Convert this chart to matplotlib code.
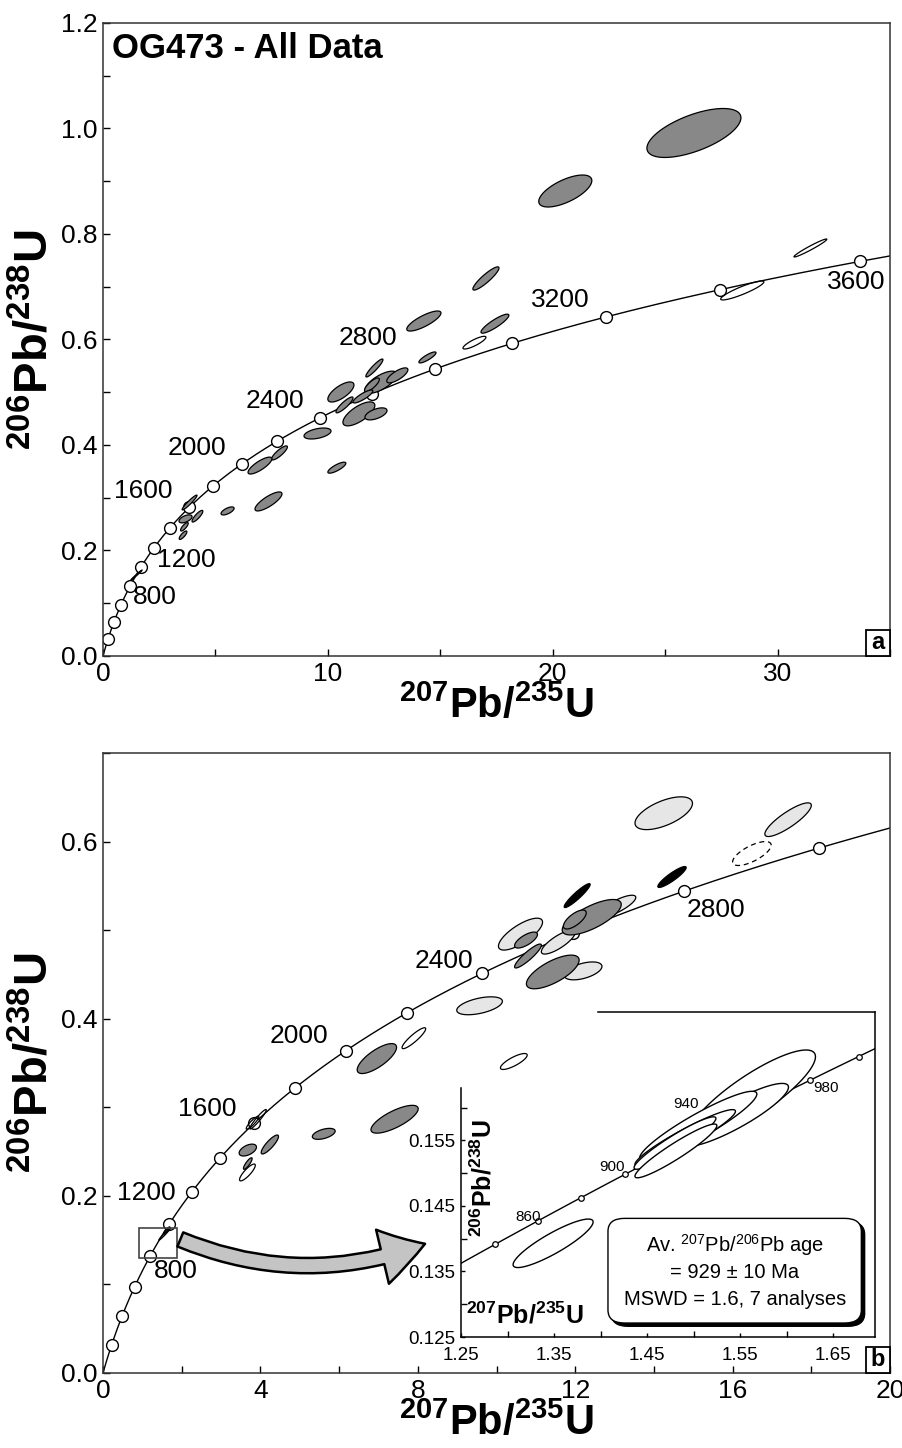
import numpy as np
import matplotlib
matplotlib.use("Agg")
import matplotlib.pyplot as plt
from matplotlib.patches import Polygon, Rectangle, FancyBboxPatch, FancyArrowPatch
from matplotlib.ticker import MultipleLocator, FormatStrFormatter

plt.rcParams['font.family'] = ['Liberation Sans', 'DejaVu Sans']
plt.rcParams['mathtext.fontset'] = 'custom'
plt.rcParams['mathtext.rm'] = 'Liberation Sans'
plt.rcParams['mathtext.it'] = 'Liberation Sans:italic'
plt.rcParams['mathtext.bf'] = 'Liberation Sans:bold'

# decay constants (per Ma)
L238 = 1.55125e-4
L235 = 9.8485e-4

# ---- data: ellipses as (207Pb/235U, 206Pb/238U, half-width x, half-height y, rho)
top_gray = [
    (26.28, 0.9915, 2.09, 0.0464, 0.62),
    (20.56, 0.8815, 1.18, 0.0303, 0.65),
    (17.03, 0.7157, 0.58, 0.0220, 0.90),
    (14.27, 0.6350, 0.76, 0.0190, 0.80),
    (17.43, 0.6300, 0.62, 0.0180, 0.88),
    (14.43, 0.5660, 0.38, 0.0104, 0.85),
    (12.07, 0.5460, 0.38, 0.0170, 0.92),
    (12.36, 0.5190, 0.71, 0.0210, 0.70),
    (11.96, 0.5140, 0.33, 0.0130, 0.80),
    (13.09, 0.5320, 0.47, 0.0142, 0.75),
    (10.58, 0.5005, 0.58, 0.0190, 0.70),
    (10.74, 0.4760, 0.38, 0.0150, 0.88),
    (11.56, 0.4920, 0.44, 0.0123, 0.85),
    (11.38, 0.4590, 0.71, 0.0227, 0.70),
    (12.14, 0.4590, 0.49, 0.0114, 0.55),
    (9.54, 0.4218, 0.60, 0.0104, 0.45),
    (7.85, 0.3850, 0.35, 0.0133, 0.85),
    (10.40, 0.3570, 0.40, 0.0104, 0.80),
    (6.98, 0.3610, 0.53, 0.0160, 0.80),
    (7.36, 0.2930, 0.60, 0.0180, 0.80),
    (5.54, 0.2750, 0.29, 0.0076, 0.65),
    (3.85, 0.2910, 0.33, 0.0140, 0.95),
    (3.67, 0.2600, 0.29, 0.0076, 0.55),
    (4.20, 0.2650, 0.24, 0.0110, 0.85),
    (3.62, 0.2450, 0.17, 0.0080, 0.80),
    (3.56, 0.2290, 0.17, 0.0080, 0.80),
    (1.49, 0.1535, 0.25, 0.0095, 0.99),
]
top_open = [
    (31.46, 0.7735, 0.73, 0.0170, 0.97),
    (28.43, 0.6930, 0.96, 0.0180, 0.90),
    (16.52, 0.5940, 0.51, 0.0120, 0.85),
]

bot_light = [
    (14.25, 0.6320, 0.73, 0.0185, 0.60),
    (17.41, 0.6247, 0.59, 0.0190, 0.85),
    (13.06, 0.5270, 0.48, 0.0124, 0.80),
    (10.61, 0.4955, 0.56, 0.0180, 0.75),
    (11.57, 0.4865, 0.43, 0.0135, 0.80),
    (12.20, 0.4540, 0.48, 0.0101, 0.50),
    (9.57, 0.4146, 0.58, 0.0101, 0.50),
]
bot_dark = [
    (12.42, 0.5146, 0.75, 0.0200, 0.72),
    (11.99, 0.5120, 0.29, 0.0107, 0.70),
    (10.75, 0.4888, 0.29, 0.0090, 0.70),
    (10.80, 0.4708, 0.34, 0.0135, 0.90),
    (11.43, 0.4528, 0.67, 0.0190, 0.70),
    (6.96, 0.3550, 0.50, 0.0169, 0.75),
    (7.41, 0.2865, 0.60, 0.0157, 0.75),
    (5.61, 0.2700, 0.29, 0.0062, 0.50),
    (4.24, 0.2580, 0.22, 0.0107, 0.85),
    (3.68, 0.2517, 0.22, 0.0067, 0.50),
    (3.68, 0.2365, 0.11, 0.0065, 0.85),
    (1.57, 0.1570, 0.15, 0.0070, 0.98),
]
bot_black = [
    (14.46, 0.5600, 0.36, 0.0118, 0.90),
    (12.05, 0.5390, 0.33, 0.0135, 0.93),
]
bot_open = [
    (7.90, 0.3780, 0.30, 0.0118, 0.90),
    (10.44, 0.3517, 0.34, 0.0090, 0.80),
    (3.94, 0.2865, 0.21, 0.0110, 0.95),
    (3.80, 0.2826, 0.16, 0.0073, 0.90),
    (3.67, 0.2264, 0.20, 0.0095, 0.85),
    (1.62, 0.1610, 0.08, 0.0040, 0.90),
]
bot_dashed = [
    (16.49, 0.5865, 0.49, 0.0135, 0.70),
]

inset_ell = [
    (1.349, 0.1393, 0.043, 0.0037, 0.88),
    (1.563, 0.1619, 0.068, 0.0069, 0.85),
    (1.545, 0.1589, 0.057, 0.0048, 0.88),
    (1.505, 0.1572, 0.063, 0.0053, 0.92),
    (1.491, 0.1554, 0.054, 0.0043, 0.94),
    (1.480, 0.1546, 0.044, 0.0040, 0.94),
    (1.481, 0.1534, 0.044, 0.0041, 0.94),
]

top_ages = [800, 1200, 1600, 2000, 2400, 2800, 3200, 3600]
top_age_pos = [(2.31, 0.112), (3.69, 0.182), (1.78, 0.313), (4.17, 0.394),
               (7.65, 0.484), (11.78, 0.602), (20.34, 0.674), (33.48, 0.709)]
bot_ages = [800, 1200, 1600, 2000, 2400, 2800]
bot_age_pos = [(1.84, 0.1157), (1.11, 0.2028), (2.65, 0.298), (4.99, 0.381),
               (8.66, 0.4646), (15.57, 0.5225)]
inset_ages = [860, 900, 940, 980]
inset_age_pos = [(1.322, 0.1433), (1.412, 0.1510), (1.492, 0.1605), (1.642, 0.1630)]

marker_ages = np.arange(200, 3601, 200)
inset_marker_ages = np.arange(840, 1001, 20)


def conc(t):
    return np.exp(L235 * t) - 1, np.exp(L238 * t) - 1


def ell_xy(e, n=160):
    x, y, dx, dy, rho = e
    t = np.linspace(0, 2 * np.pi, n)
    ex = x + dx * np.cos(t)
    ey = y + dy * (rho * np.cos(t) + np.sqrt(1 - rho ** 2) * np.sin(t))
    return np.column_stack([ex, ey])


def add_ell(ax, e, fc, ls='-', z=3, lw=0.9):
    ax.add_patch(Polygon(ell_xy(e), closed=True, fc=fc, ec='black', lw=lw, ls=ls, zorder=z))


def draw_concordia(ax, tmax, ages, ms):
    t = np.linspace(0, tmax, 800)
    cx, cy = conc(t)
    ax.plot(cx, cy, color='black', lw=1, zorder=2)
    mx, my = conc(np.asarray(ages, dtype=float))
    ax.plot(mx, my, 'o', ms=ms, mfc='white', mec='black', mew=1, zorder=2.5)


def style_axes(ax):
    ax.tick_params(which='both', direction='in', length=5, width=1,
                   top=False, right=False, labelsize=19, pad=4)
    for s in ax.spines.values():
        s.set_linewidth(1.1)
        s.set_color('#333333')


def corner_label(ax, txt, w, h):
    ax.add_patch(Rectangle((1 - w, 0), w, h, transform=ax.transAxes, fc='white',
                           ec='black', lw=1.3, zorder=6, clip_on=False))
    ax.text(1 - w / 2, h / 2, txt, transform=ax.transAxes, ha='center', va='center',
            fontsize=17, fontweight='bold', zorder=7)


W, H = 902, 1448
fig = plt.figure(figsize=(W / 100, H / 100), dpi=100)

xlab = r'$\mathbf{{}^{207}Pb/{}^{235}U}$'
ylab = r'$\mathbf{{}^{206}Pb/{}^{238}U}$'

# ---------------- panel a ----------------
ax1 = fig.add_axes([103 / W, 1 - 656 / H, 787 / W, 633 / H])
draw_concordia(ax1, 3700, marker_ages, 8.5)
for e in top_gray:
    add_ell(ax1, e, '#888888')
for e in top_open:
    add_ell(ax1, e, 'none')
for a, (px, py) in zip(top_ages, top_age_pos):
    ax1.text(px, py, str(a), fontsize=19, ha='center', va='center', zorder=5)
ax1.set_xlim(0, 35)
ax1.set_ylim(0, 1.2)
ax1.xaxis.set_major_locator(MultipleLocator(10))
ax1.xaxis.set_minor_locator(MultipleLocator(5))
ax1.yaxis.set_major_locator(MultipleLocator(0.2))
ax1.yaxis.set_minor_locator(MultipleLocator(0.1))
ax1.yaxis.set_major_formatter(FormatStrFormatter('%.1f'))
style_axes(ax1)
ax1.set_xlabel(xlab, fontsize=30, labelpad=0)
ax1.set_ylabel(ylab, fontsize=34, labelpad=2)
ax1.text(0.012, 0.985, 'OG473 - All Data', transform=ax1.transAxes, fontsize=25,
         fontweight='bold', ha='left', va='top')
corner_label(ax1, 'a', 24 / 787, 26 / 633)

# ---------------- panel b ----------------
ax2 = fig.add_axes([103 / W, 1 - 1373 / H, 787 / W, 620 / H])
draw_concordia(ax2, 3100, marker_ages[:15], 8.5)
for e in bot_light:
    add_ell(ax2, e, '#e6e6e6')
for e in bot_dark:
    add_ell(ax2, e, '#888888')
for e in bot_black:
    add_ell(ax2, e, 'black')
for e in bot_open:
    add_ell(ax2, e, 'none')
for e in bot_dashed:
    add_ell(ax2, e, 'none', ls=(0, (4, 3)))
for a, (px, py) in zip(bot_ages, bot_age_pos):
    ax2.text(px, py, str(a), fontsize=19, ha='center', va='center', zorder=5)
ax2.set_xlim(0, 20)
ax2.set_ylim(0, 0.7)
ax2.xaxis.set_major_locator(MultipleLocator(4))
ax2.xaxis.set_minor_locator(MultipleLocator(2))
ax2.yaxis.set_major_locator(MultipleLocator(0.2))
ax2.yaxis.set_minor_locator(MultipleLocator(0.1))
ax2.yaxis.set_major_formatter(FormatStrFormatter('%.1f'))
style_axes(ax2)
ax2.set_xlabel(xlab, fontsize=30, labelpad=0)
ax2.set_ylabel(ylab, fontsize=34, labelpad=2)
corner_label(ax2, 'b', 24 / 787, 26 / 620)

# zoom box and arrow
ax2.add_patch(Rectangle((0.91, 0.130), 0.96, 0.034, fc='none', ec='#444444', lw=1.2, zorder=4))
arrow = FancyArrowPatch((1.90, 0.152), (8.25, 0.147),
                        connectionstyle='arc3,rad=0.2',
                        arrowstyle='simple,head_width=40,head_length=32,tail_width=11',
                        fc='#c4c4c4', ec='black', lw=1.8, zorder=5)
ax2.add_patch(arrow)

# ---------------- inset ----------------
ax3 = fig.add_axes([461 / W, 1 - 1337 / H, 414 / W, 325 / H])
ax3.patch.set_alpha(0)
t = np.linspace(780, 1060, 300)
cx, cy = conc(t)
ax3.plot(cx, cy, color='black', lw=1, zorder=2)
mx, my = conc(inset_marker_ages.astype(float))
ax3.plot(mx, my, 'o', ms=4, mfc='white', mec='black', mew=0.9, zorder=2.5)
for e in inset_ell:
    add_ell(ax3, e, 'white', lw=1.0)
for a, (px, py) in zip(inset_ages, inset_age_pos):
    ax3.text(px, py, str(a), fontsize=11, ha='center', va='center', zorder=5)
ax3.set_xlim(1.25, 1.695)
ax3.set_ylim(0.125, 0.1746)
ax3.xaxis.set_major_locator(plt.FixedLocator([1.25, 1.35, 1.45, 1.55, 1.65]))
ax3.xaxis.set_minor_locator(plt.FixedLocator([1.30, 1.40, 1.50, 1.60]))
ax3.yaxis.set_major_locator(plt.FixedLocator([0.125, 0.135, 0.145, 0.155]))
ax3.yaxis.set_minor_locator(plt.FixedLocator([0.130, 0.140, 0.150, 0.160]))
ax3.xaxis.set_major_formatter(FormatStrFormatter('%.2f'))
ax3.yaxis.set_major_formatter(FormatStrFormatter('%.3f'))
ax3.tick_params(which='major', direction='in', length=3, width=1, labelsize=13.5,
                top=False, right=False)
ax3.tick_params(axis='x', which='major', pad=7)
ax3.tick_params(axis='y', which='major', pad=4)
ax3.tick_params(which='minor', direction='in', length=4, width=1, top=False, right=False)
ax3.spines['top'].set_visible(False)
ax3.spines['left'].set_bounds(0.125, 0.163)
for s in ax3.spines.values():
    s.set_linewidth(1.1)
ax3.plot([1.397, 1.695], [0.1746, 0.1746], color='black', lw=1.1, clip_on=False, zorder=6)
ax3.text(0.055, 0.49, ylab, transform=ax3.transAxes, rotation=90, fontsize=18,
         ha='center', va='center')
ax3.text(0.155, 0.068, xlab, transform=ax3.transAxes, fontsize=18, ha='center', va='center')

# results box with shadow
bx, by, bw, bh = 0.355, 0.043, 0.612, 0.322
ax3.add_patch(FancyBboxPatch((bx + 0.008, by - 0.010), bw, bh, transform=ax3.transAxes,
                             boxstyle='round,pad=0,rounding_size=0.04', fc='black',
                             ec='black', lw=1, zorder=6))
ax3.add_patch(FancyBboxPatch((bx, by), bw, bh, transform=ax3.transAxes,
                             boxstyle='round,pad=0,rounding_size=0.04', fc='white',
                             ec='black', lw=1, zorder=7))
cxb = bx + bw / 2
ax3.text(cxb, 0.283, r'Av. $^{207}$Pb/$^{206}$Pb age', transform=ax3.transAxes,
         fontsize=14.5, ha='center', va='center', zorder=8)
ax3.text(cxb, 0.200, '= 929 ± 10 Ma', transform=ax3.transAxes,
         fontsize=14.5, ha='center', va='center', zorder=8)
ax3.text(cxb, 0.114, 'MSWD = 1.6, 7 analyses', transform=ax3.transAxes,
         fontsize=14.5, ha='center', va='center', zorder=8)

fig.savefig('out.png', dpi=100)
